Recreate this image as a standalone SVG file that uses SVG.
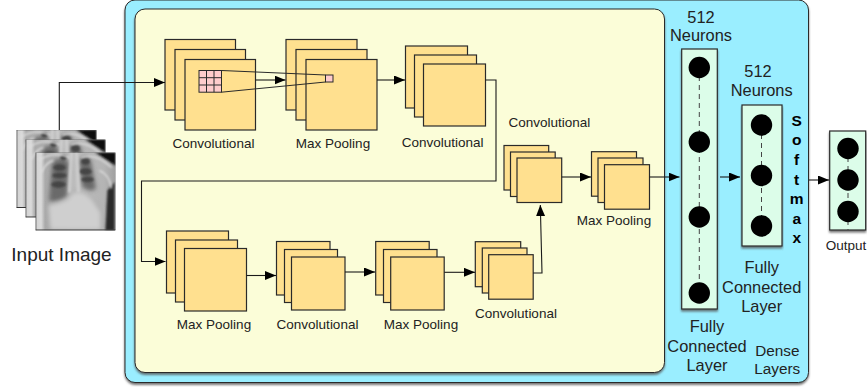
<svg xmlns="http://www.w3.org/2000/svg" xmlns:xlink="http://www.w3.org/1999/xlink" width="867" height="389" viewBox="0 0 867 389">
<style>
text{font-family:"Liberation Sans",Arial,Helvetica,sans-serif;fill:#222;text-anchor:middle}
.s{font-size:13.5px}.m{font-size:16.4px}.d{font-size:15.3px}.b{font-size:15.5px;font-weight:bold;fill:#000}
.f{fill:#ffe08f;stroke:#2a2a2a;stroke-width:1.200}
.g{fill:#ffcccc;stroke:#2a2a2a;stroke-width:1}
.n{fill:#dcfde9;stroke:#2a2a2a;stroke-width:1.200}
.c{fill:#000;stroke:none}
.l{fill:none;stroke:#1a1a1a;stroke-width:1.100;marker-end:url(#a)}
.p{fill:none;stroke:#2a2a2a;stroke-width:1}
.h{fill:none;stroke:#444;stroke-width:1;stroke-dasharray:5 4}
</style>
<defs>
<marker id="a" markerUnits="userSpaceOnUse" markerWidth="11" markerHeight="10" refX="11" refY="4.500" orient="auto"><path d="M0,0L11,4.500L0,9Z" fill="#000"/></marker>
<filter id="sh" x="-5%" y="-5%" width="110%" height="110%"><feDropShadow dx="0" dy="2" stdDeviation="1" flood-color="#555" flood-opacity=".8"/></filter>
<filter id="bl" x="-40%" y="-40%" width="180%" height="180%"><feGaussianBlur stdDeviation="2"/></filter>
<filter id="bl2" x="-40%" y="-40%" width="180%" height="180%"><feGaussianBlur stdDeviation=".8"/></filter>
<linearGradient id="xb" x1="0" y1="0" x2="1" y2="0"><stop offset="0" stop-color="#555"/><stop offset=".02" stop-color="#d4d4d4"/><stop offset=".07" stop-color="#dadada"/><stop offset=".12" stop-color="#aaa"/><stop offset=".5" stop-color="#bcbcbc"/><stop offset=".86" stop-color="#b4b4b4"/><stop offset="1" stop-color="#a0a0a0"/></linearGradient>
<symbol id="x" viewBox="0 0 80 78" width="80" height="78">
<rect width="80" height="78" fill="url(#xb)"/>
<path d="M60,0H80V13Z" fill="#0a0a0a" filter="url(#bl2)"/>
<path d="M72,38L79,30V78H70Z" fill="#2a2a2a" filter="url(#bl2)"/>
<path d="M17,10Q26,2 33,10L31,44Q22,50 14,48Z" fill="#6a6a6a" filter="url(#bl)"/>
<path d="M44,8Q50,0 55,8L60,36Q54,40 47,34Z" fill="#6a6a6a" filter="url(#bl)"/>
<g fill="#444" filter="url(#bl2)"><ellipse cx="24" cy="15" rx="6" ry="3"/><ellipse cx="24" cy="23" rx="7" ry="2.500"/><ellipse cx="23" cy="32" rx="7" ry="3"/><ellipse cx="50" cy="9" rx="4" ry="3"/><ellipse cx="50" cy="19" rx="6" ry="3"/><ellipse cx="52" cy="27" rx="6" ry="2.500"/><ellipse cx="28" cy="5" rx="3" ry="2.500"/></g>
<path d="M12,52Q24,50 32,46Q42,30 58,48L66,60V78H14Z" fill="#cfcfcf" filter="url(#bl)"/>
<path d="M3,8Q18,-2 34,5M46,5Q60,0 76,15M64,18Q74,22 76,36M6,20Q10,10 18,8" fill="none" stroke="#dedede" stroke-width="1.500" filter="url(#bl2)"/>
<path d="M36,0L34,40M41,0L43,40" fill="none" stroke="#cfcfcf" stroke-width="3" filter="url(#bl2)"/>
<path d="M0,77.500H80" stroke="#333" stroke-width="1"/>
</symbol>
</defs>

<g id="dense-panel"><rect x="125" y="0" width="683.500" height="382.500" rx="10" fill="#9aeeff" stroke="#2a2a2a" stroke-width="1" filter="url(#sh)"/></g>
<g id="conv-panel"><rect x="135" y="9" width="529.500" height="363.500" rx="10" fill="#fbfdd8" stroke="#2a2a2a" stroke-width="1" filter="url(#sh)"/></g>

<g id="input-image">
<g stroke="#444" stroke-width=".5"><use xlink:href="#x" href="#x" x="16.500" y="130"/><use xlink:href="#x" href="#x" x="25.500" y="139.500"/><use xlink:href="#x" href="#x" x="35.500" y="152.500"/></g>
<text x="61.500" y="261" style="font-size:19px">Input Image</text>
</g>

<g id="conv1">
<rect class="f" x="165" y="39.500" width="70.500" height="70.500"/><rect class="f" x="175" y="49.500" width="70.500" height="70.500"/><rect class="f" x="185" y="59.500" width="70.500" height="70.500"/>
<text class="s" x="213.500" y="147.500">Convolutional</text>
</g>
<g id="pool1">
<rect class="f" x="286" y="39.500" width="71" height="70.500"/><rect class="f" x="296" y="49.500" width="71" height="70.500"/><rect class="f" x="306" y="59.500" width="71" height="70.500"/>
<text class="s" x="333" y="147.500">Max Pooling</text>
</g>
<g id="conv2">
<rect class="f" x="405.500" y="46" width="62" height="62"/><rect class="f" x="414.500" y="55" width="62" height="62"/><rect class="f" x="423.500" y="64" width="62" height="62"/>
<text class="s" x="442.700" y="147">Convolutional</text>
</g>
<g id="conv3">
<rect class="f" x="504" y="145.500" width="44.700" height="44.500"/><rect class="f" x="510.500" y="152" width="44.700" height="44.500"/><rect class="f" x="517" y="158" width="44.700" height="44.500"/>
<text class="s" x="549.300" y="127">Convolutional</text>
</g>
<g id="pool2">
<rect class="f" x="591.500" y="151.700" width="45" height="44.500"/><rect class="f" x="598" y="158" width="45" height="44.500"/><rect class="f" x="604.500" y="164.700" width="45" height="44.500"/>
<text class="s" x="614" y="224.500">Max Pooling</text>
</g>
<g id="pool3">
<rect class="f" x="166.500" y="231" width="62" height="62"/><rect class="f" x="175.500" y="240" width="62" height="62"/><rect class="f" x="184.500" y="248.500" width="62" height="62.500"/>
<text class="s" x="214" y="329">Max Pooling</text>
</g>
<g id="conv4">
<rect class="f" x="276.500" y="241.500" width="53.500" height="53.500"/><rect class="f" x="284.500" y="249.500" width="53" height="53"/><rect class="f" x="291.500" y="257" width="53.500" height="53"/>
<text class="s" x="317.500" y="329">Convolutional</text>
</g>
<g id="pool4">
<rect class="f" x="375.700" y="241.500" width="53.500" height="53.500"/><rect class="f" x="383.500" y="249.500" width="53.500" height="53"/><rect class="f" x="390.700" y="257" width="53.500" height="53"/>
<text class="s" x="421" y="329">Max Pooling</text>
</g>
<g id="conv5">
<rect class="f" x="475.300" y="241.700" width="45.400" height="45"/><rect class="f" x="482.300" y="248" width="44.700" height="45"/><rect class="f" x="488.700" y="254.700" width="44.500" height="44.500"/>
<text class="s" x="516" y="318">Convolutional</text>
</g>

<g id="fc1">
<rect class="n" x="681.700" y="49" width="35.600" height="260" filter="url(#sh)"/>
<path class="h" d="M699.300,67V293"/>
<circle class="c" cx="699.300" cy="67.500" r="10.700"/><circle class="c" cx="699.300" cy="142" r="10.700"/><circle class="c" cx="699.300" cy="217" r="10.700"/><circle class="c" cx="699.300" cy="293" r="10.700"/>
<text class="m" x="701" y="22.700">512</text><text class="m" x="701" y="41.300">Neurons</text>
<text class="m" x="707" y="331.700">Fully</text><text class="m" x="707" y="351.500">Connected</text><text class="m" x="707" y="371">Layer</text>
</g>
<g id="fc2">
<rect class="n" x="742" y="105" width="40" height="141" filter="url(#sh)"/>
<path class="h" d="M761.500,125V226"/>
<circle class="c" cx="761.500" cy="125" r="10.700"/><circle class="c" cx="761.500" cy="175.500" r="10.700"/><circle class="c" cx="761.500" cy="226" r="10.700"/>
<text class="m" x="758" y="76.700">512</text><text class="m" x="761.700" y="96.300">Neurons</text>
<text class="m" x="761.700" y="272.700">Fully</text><text class="m" x="761.700" y="292.700">Connected</text><text class="m" x="761.700" y="312">Layer</text>
</g>
<g id="softmax">
<text class="b" x="796.700" y="125.700">S</text><text class="b" x="796.700" y="145">o</text><text class="b" x="796.700" y="164.700">f</text><text class="b" x="796.700" y="184.700">t</text><text class="b" x="796.700" y="204">m</text><text class="b" x="796.700" y="223.700">a</text><text class="b" x="796.700" y="243.300">x</text>
</g>
<g id="dense-label"><text class="d" x="777.300" y="355.700">Dense</text><text class="d" x="777.300" y="373.500">Layers</text></g>
<g id="output">
<rect class="n" x="829.700" y="131" width="36" height="99" filter="url(#sh)"/>
<path class="h" d="M848,148V230"/>
<circle class="c" cx="848" cy="148.500" r="10.700"/><circle class="c" cx="848" cy="180" r="10.700"/><circle class="c" cx="848" cy="211.500" r="10.700"/>
<text class="s" x="846" y="250">Output</text>
</g>

<g id="connectors">
<path class="l" d="M59.300,130V82.500H165"/>
<path class="l" d="M255.500,80H285.500"/>
<path class="l" d="M377,80H405"/>
<path class="l" d="M485.500,80H496V181H141.500V261.500H165.500"/>
<path class="l" d="M246.500,275.500H276"/>
<path class="l" d="M345,272H375"/>
<path class="l" d="M444.300,272.300H475"/>
<path class="l" d="M533.200,273H542L540.300,205"/>
<path class="l" d="M561.700,177H591"/>
<path class="l" d="M649.500,177H679.500"/>
<path class="l" d="M720,177H740"/>
<path class="l" d="M809,180H829"/>
</g>

<g id="detail">
<rect class="g" x="199" y="70.500" width="22.500" height="21.700"/>
<path class="p" d="M206.500,70.500V92.200M214,70.500V92.200M199,77.700H221.500M199,85H221.500"/>
<rect class="g" x="325.500" y="75" width="7.500" height="7"/>
<path class="p" d="M221.500,70.500L325.500,75M221.500,92.200L325.500,82"/>
</g>
</svg>
